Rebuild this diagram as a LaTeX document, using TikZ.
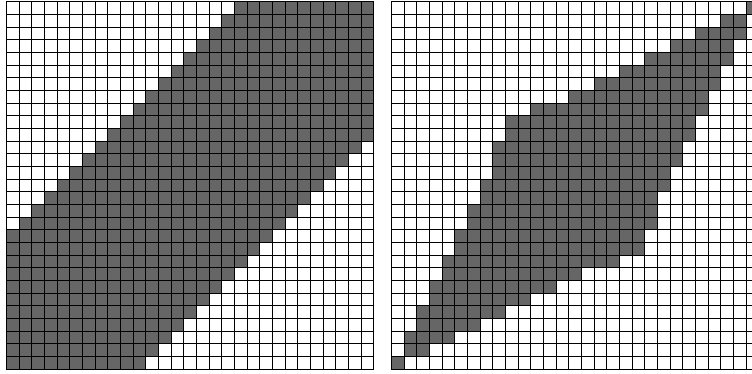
\documentclass[tikz,border=0pt]{standalone}
\tikzset{
  cellfill/.style={fill=black!60},
  gridline/.style={draw=black, line width=0.9pt},
}
\begin{document}
\begin{tikzpicture}[x=1pt,y=1pt]
\useasboundingbox (0,0) rectangle (752,373);
\clip (0,0) rectangle (752,373);
\fill[white] (0,0) rectangle (752,373);
% left grid
\begin{scope}[shift={(6.33,4.0)}, x=12.667pt, y=12.667pt]
  \foreach \i in {0,...,28} {
    \foreach \j in {0,...,28} {
      \pgfmathtruncatemacro\s{\i+\j}
      \ifnum\s>17 \ifnum\s<39
        \fill[cellfill] (\i,28-\j) rectangle ++(1,1);
      \fi\fi
    }
  }
  \draw[gridline, step=1] (0,0) grid (29,29);
\end{scope}
% right grid
\begin{scope}[shift={(391.33,4.0)}, x=12.667pt, y=12.667pt]
  \foreach \j/\a/\b in {0/28/28, 1/26/27, 2/24/27, 3/22/26, 4/20/26, 5/18/25,
      6/16/25, 7/14/24, 8/11/24, 9/9/23, 10/9/23, 11/8/22, 12/8/22, 13/8/21,
      14/7/21, 15/7/20, 16/6/20, 17/6/20, 18/5/19, 19/5/19, 20/4/17, 21/4/14,
      22/3/12, 23/3/10, 24/2/8, 25/2/6, 26/1/4, 27/1/2, 28/0/0} {
    \fill[cellfill] (\a,28-\j) rectangle (\b+1,29-\j);
  }
  \draw[gridline, step=1] (0,0) grid (29,29);
\end{scope}
\end{tikzpicture}
\end{document}
